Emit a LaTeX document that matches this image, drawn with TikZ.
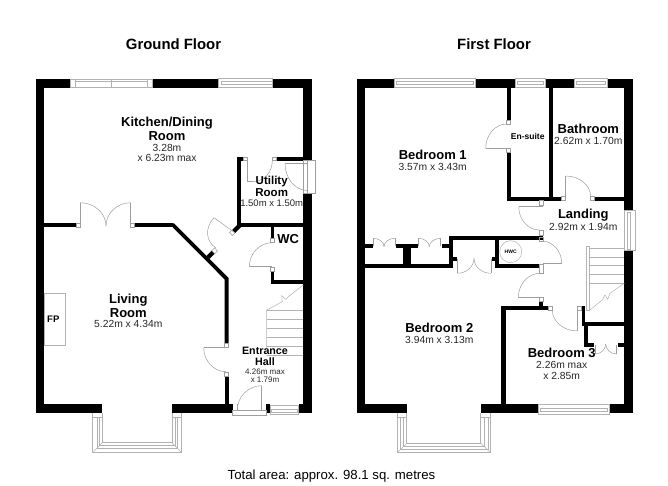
\documentclass[tikz,border=0pt]{standalone}
\usepackage{fontspec}
\setmainfont{Liberation Sans}
\usetikzlibrary{calc}
\tikzset{
  glaze/.style={draw=black!30,line width=0.5pt},
  door/.style={draw=black!38,line width=0.5pt},
  title/.style={font=\bfseries\fontsize{14.9}{16}\selectfont,align=center},
  roomname/.style={font=\bfseries\fontsize{13}{13.5}\selectfont,align=center},
  roomsize/.style={font=\fontsize{10.3}{10.6}\selectfont,align=center,text=black!85}
}
\newcommand{\leafarc}[3]{\draw[door] (#1) .. controls ($(#1)!0.55!(#2)$) and ($(#3)!0.55!(#2)$) .. (#3);}
\begin{document}
\begin{tikzpicture}[line cap=butt,line join=miter,x=1pt,y=-1pt]
\useasboundingbox (0,0) rectangle (668,486);
% ground floor walls
\fill (36,79.3) rectangle (44.3,412.7);
\fill (36,79.3) rectangle (70,87.7);
\fill (152.3,79.3) rectangle (218,87.7);
\fill (272,79.3) rectangle (311.7,87.7);
\fill (303.3,79.3) rectangle (311.7,160.7);
\fill (303.3,193.3) rectangle (311.7,412.7);
\fill (36,404.3) rectangle (102.3,412.7);
\fill (172,404.3) rectangle (232.7,412.7);
\fill (266,404.3) rectangle (270,412.7);
\fill (298.7,404.3) rectangle (311.7,412.7);
\fill (44,223.3) rectangle (76,227);
\fill (134.3,223.3) rectangle (173.3,227);
\fill (172.5,223.3) -- (174,223.3) -- (228.7,278) -- (228.7,343.3) -- (224.7,343.3) -- (224.7,279.5) -- (172.5,227) -- cycle;
\fill (224.7,376.7) rectangle (228.7,404.3);
\fill (236.7,157) rectangle (243,160.7);
\fill (236.7,157) rectangle (240.7,227.3);
\fill (276.7,156.7) rectangle (303.3,160.7);
\fill (236.7,223.3) rectangle (303.3,227.3);
\fill (238,224) -- (241,227) -- (235,233) -- (232,230) -- cycle;
\fill (270.7,225) rectangle (274.3,238);
\fill (270.7,271.7) rectangle (274.3,283.7);
\fill (270.7,280) rectangle (303.3,283.7);
\fill (206.5,255.9) -- (209.5,258.9) -- (214.7,253.7) -- (211.7,250.7) -- cycle;
% ground floor windows
\draw[glaze] (70,79.3) rectangle (152.3,87.7);
\draw[glaze] (75,79.3) -- (75,87.7) (111,79.3) -- (111,87.7) (147,79.3) -- (147,87.7);
\draw[glaze] (75,81.5) -- (147,81.5);
\draw[glaze] (218,78) rectangle (272,87.5);
\draw[glaze] (221,81.7) rectangle (272,84);
\draw[glaze] (270,405) rectangle (298.7,414);
\draw[glaze] (271.5,409) rectangle (297,412);
% ground floor bay
\draw[glaze] (92.7,412.7) -- (92.7,452.7) -- (181.7,452.7) -- (181.7,412.7);
\draw[glaze] (97,417) -- (97,448) -- (177.5,448) -- (177.5,417);
\draw[glaze] (99,417) -- (99,445.5) -- (175.5,445.5) -- (175.5,417);
\draw[glaze] (102.3,412.7) -- (102.3,442.7) -- (172,442.7) -- (172,412.7);
\draw[glaze] (92.7,417) -- (102.3,417) (172,417) -- (181.7,417);
\draw[glaze] (92.7,452.7) -- (102.3,442.7) (181.7,452.7) -- (172,442.7);
% ground floor doors
\draw[door] (76,223.3) rectangle (80,227);
\draw[door] (130.7,223.3) rectangle (134.3,227);
\draw[door] (80,223.3) -- (80,202.7);
\draw[door] (130.7,223.3) -- (130.7,202.7);
\leafarc{80,202.7}{106,202.7}{106,226}
\leafarc{130.7,202.7}{106,202.7}{106,226}
\draw[door] (232,230) -- (235,233) -- (232.5,235.5) -- (229.5,232.5) -- cycle;
\draw[door] (211.7,250.7) -- (214.7,253.7) -- (217.5,250.9) -- (214.5,247.9) -- cycle;
\draw[door] (233.3,231.7) -- (214,217.7);
\leafarc{214,217.7}{197,236}{216,248}
\draw[door] (243,157) rectangle (247.5,160.7);
\draw[door] (272,157) rectangle (276.7,160.7);
\draw[door] (247.7,160.7) -- (247.7,181.7) -- (253,181.7);
\leafarc{272.3,161}{272.3,181.7}{253,181.7}
\draw[door] (303.3,160.7) rectangle (315,193.3);
\draw[door] (307.5,163.5) -- (285,163.5);
\draw[door] (307.5,160.7) -- (307.5,193.3);
\leafarc{285,163.5}{285,190.5}{307.5,190.5}
\draw[door] (270.7,238) rectangle (274.3,242);
\draw[door] (270.7,267.3) rectangle (274.3,271.7);
\draw[door] (249.3,266.7) -- (272,266.7);
\leafarc{272.3,242.7}{249.3,242.7}{249.3,266.7}
\draw[door] (224.7,343.3) rectangle (228.7,347.7);
\draw[door] (224.7,372.3) rectangle (228.7,376.7);
\draw[door] (203.7,347.7) -- (226,347.7);
\leafarc{203.7,347.7}{203.7,371.7}{226,371.7}
\draw[door] (232.7,410.7) rectangle (266,415.7);
\draw[door] (237.3,404.3) -- (237.3,410.7);
\draw[door] (261.7,385.7) -- (261.7,410.7);
\leafarc{261.7,385.7}{237.3,385.7}{237.3,410}
% ground floor stairs and fireplace
\draw[glaze] (44.3,293.3) rectangle (65,345);
\draw[glaze] (266.7,348) -- (266.7,310) -- (282.3,301.7) -- (281.7,295.7) -- (286,299.5) -- (288.3,296.7) -- (303.3,285);
\draw[glaze] (266.7,310) -- (303.3,310);
\draw[glaze] (266.7,319.3) -- (303.3,319.3);
\draw[glaze] (266.7,328.3) -- (303.3,328.3);
\draw[glaze] (266.7,337.3) -- (303.3,337.3);
\draw[glaze] (266.7,346.7) -- (303.3,346.7);
\draw[glaze] (266.7,355) -- (303.3,355);
% first floor walls
\fill (356.7,79.3) rectangle (365.3,412.7);
\fill (356.7,79.3) rectangle (394.3,87.7);
\fill (475,79.3) rectangle (515,87.7);
\fill (545.3,79.3) rectangle (574.3,87.7);
\fill (607.3,79.3) rectangle (632.7,87.7);
\fill (624.3,79.3) rectangle (632.7,210);
\fill (624.3,250.7) rectangle (632.7,412.7);
\fill (356.7,404.3) rectangle (406.7,412.7);
\fill (480.7,404.3) rectangle (538.3,412.7);
\fill (609,404.3) rectangle (632.7,412.7);
\fill (506.7,87.7) rectangle (510.7,120);
\fill (506.7,152.3) rectangle (510.7,200.7);
\fill (506.7,196.7) rectangle (561.7,200.7);
\fill (594.7,196.7) rectangle (624.3,200.7);
\fill (549.3,87.7) rectangle (553.3,200);
\fill (449.3,236) rectangle (543.3,240);
\fill (449.3,236) rectangle (453.3,268.3);
\fill (365.3,264.3) rectangle (453.3,268.3);
\fill (365.3,244) rectangle (372.7,248);
\fill (396,244) rectangle (418.3,248);
\fill (403.3,244) rectangle (410.7,265);
\fill (441.7,244) rectangle (449.3,248);
\fill (453.3,256.7) rectangle (456.7,261.3);
\fill (492,256.7) rectangle (495.3,261.3);
\fill (495.3,240) rectangle (499.3,268.3);
\fill (495.3,264.3) rectangle (539.3,268.3);
\fill (539.3,301.7) rectangle (543.3,306);
\fill (501.3,306) rectangle (548.3,310);
\fill (501.3,306) rectangle (505.7,404.3);
\fill (581.5,306) rectangle (585,326);
\fill (582,321.9) rectangle (624.3,326);
\fill (584,321.9) rectangle (588.3,347.3);
\fill (584,343.3) rectangle (594.3,347.3);
\fill (617.7,343.3) rectangle (624.3,347.3);
% first floor windows
\draw[glaze] (394.3,78) rectangle (475,87.7);
\draw[glaze] (396.5,81.5) rectangle (473,84);
\draw[glaze] (515,78) rectangle (545.3,87.7);
\draw[glaze] (517,81.5) rectangle (543.5,84);
\draw[glaze] (574.3,78) rectangle (607.3,87.7);
\draw[glaze] (576.5,81.5) rectangle (605.5,84);
\draw[glaze] (624.3,210) rectangle (635,250.7);
\draw[glaze] (627.5,212) rectangle (630,249);
\draw[glaze] (538.3,404.3) rectangle (609,414);
\draw[glaze] (540.5,408) rectangle (607,411);
% first floor bay
\draw[glaze] (397.3,412.7) -- (397.3,452.7) -- (490.7,452.7) -- (490.7,412.7);
\draw[glaze] (400,417) -- (400,449.5) -- (488,449.5) -- (488,417);
\draw[glaze] (403,417) -- (403,446.5) -- (484.5,446.5) -- (484.5,417);
\draw[glaze] (406.7,412.7) -- (406.7,443.3) -- (480.7,443.3) -- (480.7,412.7);
\draw[glaze] (397.3,417) -- (406.7,417) (480.7,417) -- (490.7,417);
\draw[glaze] (397.3,452.7) -- (406.7,443.3) (490.7,452.7) -- (480.7,443.3);
% first floor doors
\draw[door] (506.7,120) rectangle (510.7,124);
\draw[door] (506.7,148.3) rectangle (510.7,152.3);
\draw[door] (485.7,148.3) -- (506.7,148.3);
\leafarc{485.7,148.3}{485.7,124}{506.7,124}
\draw[door] (561.7,196.7) rectangle (565.7,200.7);
\draw[door] (590.7,196.7) rectangle (594.7,200.7);
\draw[door] (565.7,196.7) -- (565.7,176);
\leafarc{565.7,176}{590.7,176}{590.7,196.7}
\draw[door] (539.3,200.7) rectangle (543.3,205.7);
\draw[door] (539.3,230.7) rectangle (543.3,235);
\draw[door] (518.7,206.7) -- (543,206.7);
\leafarc{518.7,206.7}{518.7,230}{539.3,230}
\draw[door] (539.3,237.7) rectangle (543.3,241.7);
\draw[door] (543,263.3) -- (561.7,263.3);
\leafarc{541.7,241}{561.7,241}{561.7,263.3}
\draw[door] (539.3,264.3) rectangle (543.3,273.3);
\draw[door] (518.3,297.7) -- (543,297.7);
\leafarc{540,273.3}{518.3,273.3}{518.3,297.7}
\draw[door] (539.3,297.7) rectangle (543.3,301.7);
\draw[door] (548.3,306) rectangle (552.3,310);
\draw[door] (577.3,306) rectangle (581.3,310);
\draw[door] (577.3,310) -- (577.3,331);
\leafarc{552.3,310}{552.3,331}{577.3,331}
% cupboard doors
\draw[door] (373.3,246) -- (373.3,238.3);
\draw[door] (395,246) -- (395,238.3);
\leafarc{373.3,238.3}{384,238.3}{384,246.7}
\leafarc{395,238.3}{384,238.3}{384,246.7}
\draw[door] (418.3,246) -- (418.3,238.3);
\draw[door] (440.7,246) -- (440.7,238.3);
\leafarc{418.3,238.3}{429.3,238.3}{429.3,246.7}
\leafarc{440.7,238.3}{429.3,238.3}{429.3,246.7}
\draw[door] (457.3,259) -- (457.3,273.3);
\draw[door] (491,259) -- (491,273.3);
\leafarc{457.3,273.3}{474,273.3}{474,258.3}
\leafarc{491,273.3}{474,273.3}{474,258.3}
\draw[door] (595,345) -- (595,354);
\draw[door] (616.7,345) -- (616.7,354);
\leafarc{595,354}{605.7,354}{605.7,344}
\leafarc{616.7,354}{605.7,354}{605.7,344}
% first floor stairs and cylinder
\draw[glaze] (510.7,251.7) circle (11);
\draw[glaze] (586.7,246.7) rectangle (589,310);
\draw[glaze] (589,248) -- (624.3,248);
\draw[glaze] (589,257) -- (624.3,257);
\draw[glaze] (589,265.5) -- (624.3,265.5);
\draw[glaze] (589,274.5) -- (624.3,274.5);
\draw[glaze] (589,283) -- (624.3,283);
\draw[glaze] (624.3,283.3) -- (610,293.3) -- (607.7,299.3) -- (605,295) -- (602.3,300) -- (589,310.7);
% labels
\node[title] (groundtitle) at (173.5,44) {Ground Floor};
\node[title] (firsttitle) at (494,44) {First Floor};
\node[roomname] (kitchen) at (167,129) {Kitchen/Dining\\Room};
\node[roomsize] (kitchensize) at (167,153) {3.28m\\x 6.23m max};
\node[roomname,font=\bfseries\fontsize{11.5}{11.5}\selectfont] (utility) at (271.7,186.5) {Utility\\Room};
\node[roomsize,font=\fontsize{9.5}{10}\selectfont] (utilitysize) at (271.7,203.3) {1.50m x 1.50m};
\node[roomname] (wc) at (288.3,239.3) {WC};
\node[roomname,font=\bfseries\fontsize{9.5}{10}\selectfont] (fp) at (53.3,319) {FP};
\node[roomname] (living) at (128.3,305.7) {Living\\Room};
\node[roomsize] (livingsize) at (128.3,323.7) {5.22m x 4.34m};
\node[roomname,font=\bfseries\fontsize{10.7}{11}\selectfont] (hall) at (265,356.2) {Entrance\\Hall};
\node[roomsize,font=\fontsize{8}{8}\selectfont] (hallsize) at (265,375.3) {4.26m max\\x 1.79m};
\node[roomname] (bed1) at (432.7,155) {Bedroom 1};
\node[roomsize] (bed1size) at (432.7,166.7) {3.57m x 3.43m};
\node[roomname,font=\bfseries\fontsize{8.5}{9}\selectfont] (ensuite) at (527.7,136.7) {En-suite};
\node[roomname] (bath) at (588.3,129.3) {Bathroom};
\node[roomsize] (bathsize) at (588.3,141.3) {2.62m x 1.70m};
\node[roomname] (landing) at (583.3,215.3) {Landing};
\node[roomsize] (landingsize) at (583.3,226.7) {2.92m x 1.94m};
\node[roomname,font=\bfseries\fontsize{5}{6}\selectfont] (hwc) at (510.7,252) {HWC};
\node[roomname] (bed2) at (439.3,328.3) {Bedroom 2};
\node[roomsize] (bed2size) at (439.3,340) {3.94m x 3.13m};
\node[roomname] (bed3) at (561.7,353.3) {Bedroom 3};
\node[roomsize] (bed3size) at (561.7,370.3) {2.26m max\\x 2.85m};
\node[font=\fontsize{13.2}{15}\selectfont] (total) at (331.5,476) {Total area: approx. 98.1 sq. metres};
\end{tikzpicture}
\end{document}
